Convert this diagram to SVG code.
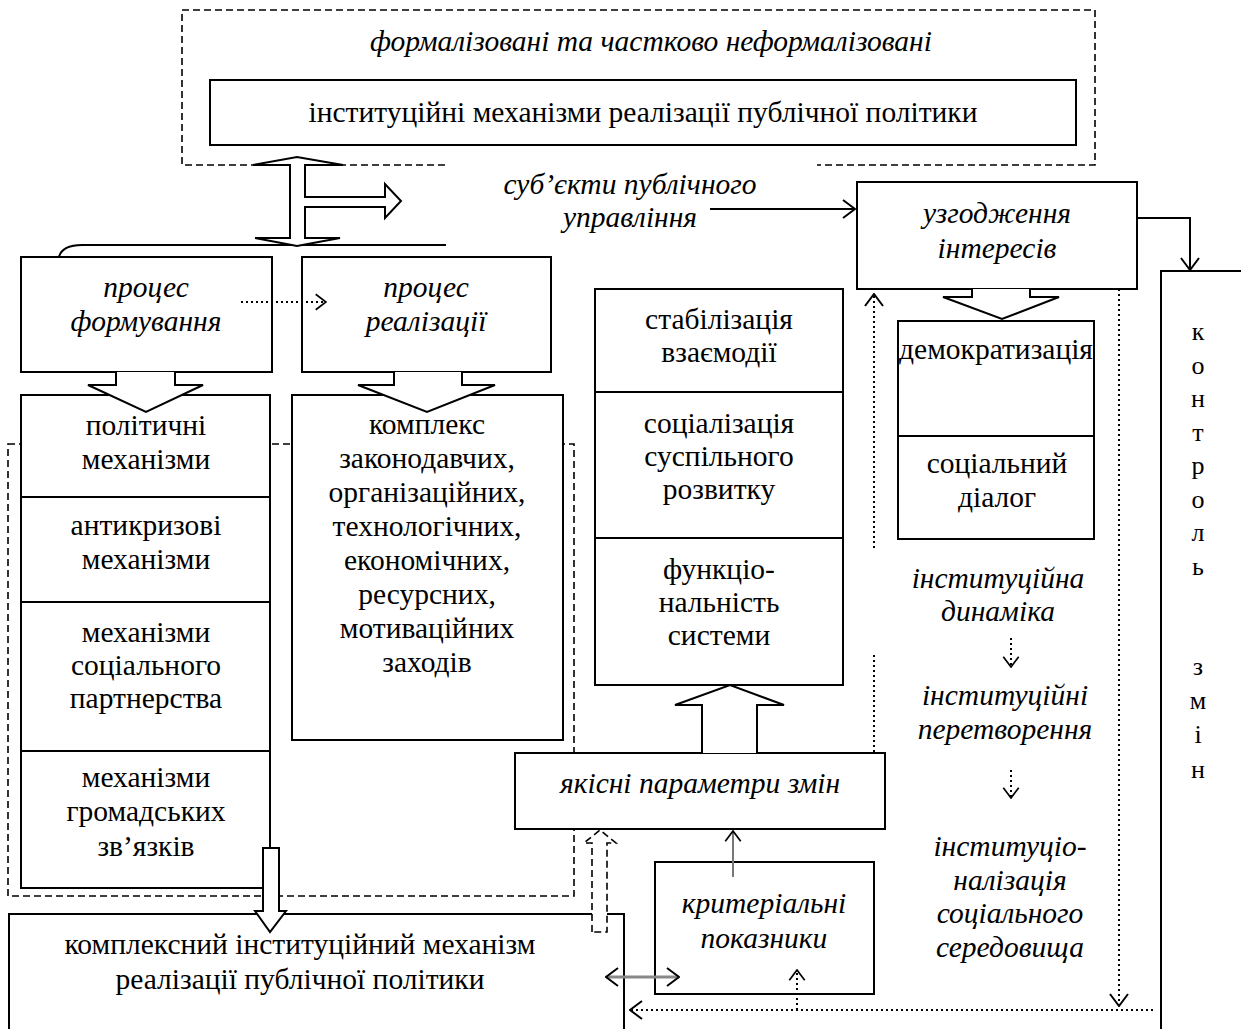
<svg xmlns="http://www.w3.org/2000/svg" width="1241" height="1029" viewBox="0 0 1241 1029">
<style>
.box{fill:#fff;stroke:#000;stroke-width:2}
.ln{fill:none;stroke:#000;stroke-width:2}
.dash{fill:none;stroke:#000;stroke-width:1.6;stroke-dasharray:7,4}
.dot{fill:none;stroke:#000;stroke-width:2;stroke-dasharray:2,3}
.blk{fill:#fff;stroke:#000;stroke-width:2;stroke-linejoin:miter}
.t{font-family:"Liberation Serif","Times New Roman",serif;font-size:29.5px;text-anchor:middle;fill:#000}
.i{font-style:italic}
.v{font-family:"Liberation Serif","Times New Roman",serif;font-size:26px;text-anchor:middle;fill:#000}
</style>
<defs>
<marker id="ch" viewBox="0 0 14 20" refX="13" refY="10" markerWidth="14" markerHeight="20" markerUnits="userSpaceOnUse" orient="auto-start-reverse">
<path d="M1,1 L13,10 L1,19" fill="none" stroke="#000" stroke-width="2" stroke-dasharray="none"/>
</marker>
<marker id="chs" viewBox="0 0 14 20" refX="13" refY="10" markerWidth="12" markerHeight="18" markerUnits="userSpaceOnUse" orient="auto-start-reverse">
<path d="M1,1 L13,10 L1,19" fill="none" stroke="#000" stroke-width="2" stroke-dasharray="none"/>
</marker>
</defs>
<rect width="1241" height="1029" fill="#fff"/>

<g id="frames">
<path class="dash" d="M445,165 L182,165 L182,10 L1095,10 L1095,165 L817,165"/>
<rect class="dash" x="8" y="444" width="566" height="452"/>
</g>

<g id="node-top">
<text class="t i" x="651" y="51">формалізовані та частково неформалізовані</text>
<rect class="box" x="210" y="80" width="866" height="65"/>
<text class="t" x="643" y="122">інституційні механізми реалізації публічної політики</text>
</g>

<g id="node-subjects">
<text class="t i" x="630" y="194">суб’єкти публічного</text>
<text class="t i" x="630" y="227">управління</text>
</g>

<g id="node-agree">
<rect class="box" x="857" y="182" width="280" height="107"/>
<text class="t i" x="997" y="223">узгодження</text>
<text class="t i" x="997" y="258">інтересів</text>
</g>

<g id="node-form">
<rect class="box" x="21" y="257" width="251" height="115"/>
<text class="t i" x="146" y="297">процес</text>
<text class="t i" x="146" y="331">формування</text>
</g>

<g id="node-real">
<rect class="box" x="302" y="257" width="249" height="115"/>
<text class="t i" x="426" y="297">процес</text>
<text class="t i" x="426" y="331">реалізації</text>
</g>

<g id="node-mech">
<rect class="box" x="21" y="395" width="249" height="493"/>
<line class="ln" x1="21" y1="497" x2="270" y2="497"/>
<line class="ln" x1="21" y1="602" x2="270" y2="602"/>
<line class="ln" x1="21" y1="751" x2="270" y2="751"/>
<text class="t" x="146" y="435">політичні</text>
<text class="t" x="146" y="469">механізми</text>
<text class="t" x="146" y="535">антикризові</text>
<text class="t" x="146" y="569">механізми</text>
<text class="t" x="146" y="642">механізми</text>
<text class="t" x="146" y="675">соціального</text>
<text class="t" x="146" y="708">партнерства</text>
<text class="t" x="146" y="787">механізми</text>
<text class="t" x="146" y="821">громадських</text>
<text class="t" x="146" y="856">зв’язків</text>
</g>

<g id="node-complex">
<rect class="box" x="292" y="395" width="271" height="345"/>
<text class="t" x="427" y="434">комплекс</text>
<text class="t" x="427" y="468">законодавчих,</text>
<text class="t" x="427" y="502">організаційних,</text>
<text class="t" x="427" y="536">технологічних,</text>
<text class="t" x="427" y="570">економічних,</text>
<text class="t" x="427" y="604">ресурсних,</text>
<text class="t" x="427" y="638">мотиваційних</text>
<text class="t" x="427" y="672">заходів</text>
</g>

<g id="node-stab">
<rect class="box" x="595" y="289" width="248" height="396"/>
<line class="ln" x1="595" y1="392" x2="843" y2="392"/>
<line class="ln" x1="595" y1="538" x2="843" y2="538"/>
<text class="t" x="719" y="329">стабілізація</text>
<text class="t" x="719" y="362">взаємодії</text>
<text class="t" x="719" y="433">соціалізація</text>
<text class="t" x="719" y="466">суспільного</text>
<text class="t" x="719" y="499">розвитку</text>
<text class="t" x="719" y="579">функціо-</text>
<text class="t" x="719" y="612">нальність</text>
<text class="t" x="719" y="645">системи</text>
</g>

<g id="node-demo">
<rect class="box" x="898" y="321" width="196" height="218"/>
<line class="ln" x1="898" y1="436" x2="1094" y2="436"/>
<text class="t" x="996" y="359">демократизація</text>
<text class="t" x="997" y="473">соціальний</text>
<text class="t" x="997" y="507">діалог</text>
</g>

<g id="node-dyn">
<text class="t i" x="998" y="588">інституційна</text>
<text class="t i" x="998" y="621">динаміка</text>
<text class="t i" x="1005" y="705">інституційні</text>
<text class="t i" x="1005" y="739">перетворення</text>
<text class="t i" x="1010" y="856">інституціо-</text>
<text class="t i" x="1010" y="890">налізація</text>
<text class="t i" x="1010" y="923">соціального</text>
<text class="t i" x="1010" y="957">середовища</text>
</g>

<g id="node-control">
<rect class="box" x="1161" y="271" width="100" height="780"/>
<text class="v" x="1198" y="340">к</text>
<text class="v" x="1198" y="374">о</text>
<text class="v" x="1198" y="407">н</text>
<text class="v" x="1198" y="441">т</text>
<text class="v" x="1198" y="474">р</text>
<text class="v" x="1198" y="508">о</text>
<text class="v" x="1198" y="541">л</text>
<text class="v" x="1198" y="575">ь</text>
<text class="v" x="1198" y="675">з</text>
<text class="v" x="1198" y="709">м</text>
<text class="v" x="1198" y="743">і</text>
<text class="v" x="1198" y="778">н</text>
</g>

<g id="node-quality">
<rect class="box" x="515" y="753" width="370" height="76"/>
<text class="t i" x="700" y="793">якісні параметри змін</text>
</g>

<g id="node-criteria">
<rect class="box" x="655" y="862" width="219" height="132"/>
<text class="t i" x="764" y="913">критеріальні</text>
<text class="t i" x="764" y="948">показники</text>
</g>

<g id="node-bottom">
<rect class="box" x="9" y="914" width="615" height="130"/>
<text class="t" x="300" y="954">комплексний інституційний механізм</text>
<text class="t" x="300" y="989">реалізації публічної політики</text>
</g>

<g id="connectors">
<path class="ln" d="M59,257 Q62,245 82,245 L446,245"/>
<path class="blk" d="M290,165 L253,165 L297,157 L343,165 L305,165 L305,197 L385,197 L385,184 L401,201 L385,218 L385,207 L305,207 L305,238 L340,238 L297,246 L255,238 L290,238 Z"/>
<path class="blk" d="M116,372 L116,385 L88,385 L146,412 L203,385 L175,385 L175,372"/>
<path class="blk" d="M394,372 L394,385 L358,385 L427,412 L495,385 L462,385 L462,372"/>
<path class="blk" d="M972,289 L972,297 L943,297 L1002,319 L1059,297 L1030,297 L1030,289"/>
<path class="blk" d="M702,753 L702,705 L675,705 L730,685 L784,705 L757,705 L757,753"/>
<path class="blk" d="M263,848 L263,911 L255,911 L270,932 L286,911 L279,911 L279,848 Z"/>
<path class="dash" style="fill:#fff" d="M592,932 L592,843 L584,843 L600,830 L616,843 L607,843 L607,932 Z"/>
<line class="ln" x1="710" y1="209" x2="855" y2="209" marker-end="url(#ch)"/>
<polyline class="ln" points="1137,218 1190,218 1190,270" marker-end="url(#ch)"/>
<line class="dot" x1="241" y1="302" x2="326" y2="302" marker-end="url(#chs)"/>
<line class="dot" x1="874" y1="548" x2="874" y2="294" marker-end="url(#ch)"/>
<line class="dot" x1="874" y1="655" x2="874" y2="753"/>
<line class="dot" x1="1119" y1="289" x2="1119" y2="1006" marker-end="url(#ch)"/>
<line class="dot" x1="1153" y1="1010" x2="630" y2="1010" marker-end="url(#ch)"/>
<line class="dot" x1="797" y1="1010" x2="797" y2="970" marker-end="url(#chs)"/>
<line class="dot" x1="1011" y1="638" x2="1011" y2="667" marker-end="url(#chs)"/>
<line class="dot" x1="1011" y1="770" x2="1011" y2="798" marker-end="url(#chs)"/>
<line x1="606" y1="977" x2="679" y2="977" stroke="#888" stroke-width="3" marker-start="url(#ch)" marker-end="url(#ch)"/>
<line x1="733" y1="877" x2="733" y2="831" stroke="#777" stroke-width="2" marker-end="url(#chs)"/>
</g>
</svg>
